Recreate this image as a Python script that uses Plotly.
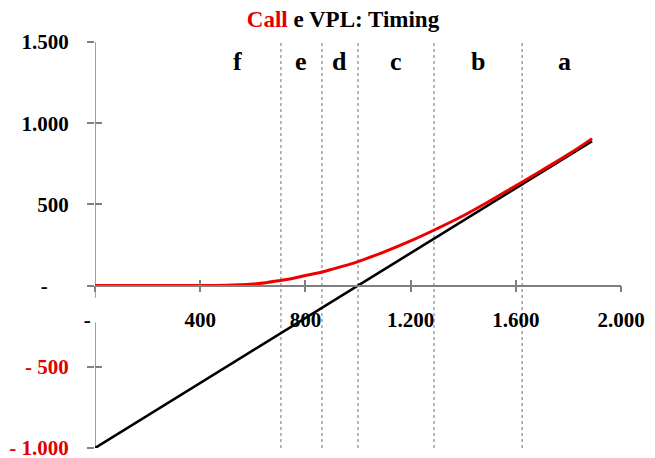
import plotly.graph_objects as go

# Data
call_x = [0, 400, 500, 550, 600, 650, 700, 750, 800, 863, 900, 1000, 1100, 1200, 1300, 1400, 1500, 1600, 1700, 1800, 1890]
call_y = [0, 0, 2, 5, 10, 18, 30, 44, 62, 84, 100, 148, 208, 275, 350, 430, 520, 615, 710, 808, 905]
vpl_x = [0, 1890]
vpl_y = [-1000, 890]
region_bounds = [707, 863, 1000, 1289, 1624]
region_labels = ["f", "e", "d", "c", "b", "a"]
region_label_x = [540, 785, 931, 1145, 1456, 1787]
x_tickvals = [0, 400, 800, 1200, 1600, 2000]
x_ticktext = ["-\u00a0\u00a0\u00a0", "400", "800", "1.200", "1.600", "2.000"]
y_tickvals = [1500, 1000, 500, 0, -500, -1000]
y_ticktext = ["1.500", "1.000", "500", "-\u00a0\u00a0\u00a0\u00a0",
              "<span style='color:#e00000'>- 500</span>",
              "<span style='color:#e00000'>- 1.000</span>"]

FONT = "Liberation Serif"
AX = "#808080"
W, H = 647, 450  # page body has an 8px margin

fig = go.Figure()
fig.add_trace(go.Scatter(x=vpl_x, y=vpl_y, mode="lines",
                         line=dict(color="black", width=2.6), showlegend=False))
fig.add_trace(go.Scatter(x=call_x, y=call_y, mode="lines", line_shape="spline",
                         line=dict(color="#ee0000", width=3), showlegend=False))

shapes = []
for b in region_bounds:
    shapes.append(dict(type="line", xref="x", yref="y", x0=b, x1=b, y0=-1000, y1=1500,
                       line=dict(color="#707070", width=1, dash="dot"), layer="below"))
# y axis line (broken below zero where the x label sits)
shapes.append(dict(type="line", xref="x", yref="y", x0=0, x1=0, y0=1500, y1=-75,
                   line=dict(color=AX, width=1.5), layer="below"))
shapes.append(dict(type="line", xref="x", yref="y", x0=0, x1=0, y0=-225, y1=-1000,
                   line=dict(color=AX, width=1.5), layer="below"))

annotations = []
for lab, lx in zip(region_labels, region_label_x):
    annotations.append(dict(x=lx, y=1377, xref="x", yref="y", text="<b>%s</b>" % lab,
                            showarrow=False, font=dict(family=FONT, size=26, color="black")))

fig.update_layout(
    width=W, height=H,
    margin=dict(l=87, r=34, t=34, b=10, autoexpand=False),
    paper_bgcolor="white", plot_bgcolor="white",
    title=dict(text="<b><span style='color:#e00000'>Call</span> e VPL: Timing</b>",
               x=335 / W, xref="container", xanchor="center",
               y=1 - 11 / H, yref="container", yanchor="middle",
               font=dict(family=FONT, size=23, color="black")),
    shapes=shapes, annotations=annotations,
    xaxis=dict(range=[0, 2000], anchor="free", position=0.4, showgrid=False, zeroline=False,
               automargin=False, ticklabeloverflow="allow",
               showline=True, linecolor=AX, linewidth=1.5,
               ticks="outside", ticklen=6, tickwidth=1.5, tickcolor=AX,
               tickvals=x_tickvals, ticktext=x_ticktext, ticklabelstandoff=9,
               tickfont=dict(family=FONT, size=21, color="black", weight="bold")),
    xaxis2=dict(range=[0, 2000], overlaying="x", anchor="free", position=0.4,
                showgrid=False, zeroline=False, showline=False, automargin=False,
                ticks="inside", ticklen=6, tickwidth=1.5, tickcolor=AX,
                tickvals=x_tickvals, showticklabels=False),
    yaxis=dict(range=[-1000, 1500], showgrid=False, zeroline=False, showline=False,
               automargin=False, ticklabeloverflow="allow",
               ticks="outside", ticklen=7, tickwidth=1.5, tickcolor=AX,
               tickvals=y_tickvals, ticktext=y_ticktext, ticklabelstandoff=14,
               tickfont=dict(family=FONT, size=21, color="black", weight="bold")),
    yaxis2=dict(range=[-1000, 1500], overlaying="y", anchor="x", side="left",
                showgrid=False, zeroline=False, showline=False, automargin=False,
                ticks="inside", ticklen=7, tickwidth=1.5, tickcolor=AX,
                tickvals=y_tickvals, showticklabels=False),
)
# invisible trace to activate overlay axes
fig.add_trace(go.Scatter(x=[None], y=[None], xaxis="x2", yaxis="y2", showlegend=False,
                         hoverinfo="skip"))

fig.write_html("out.html")
